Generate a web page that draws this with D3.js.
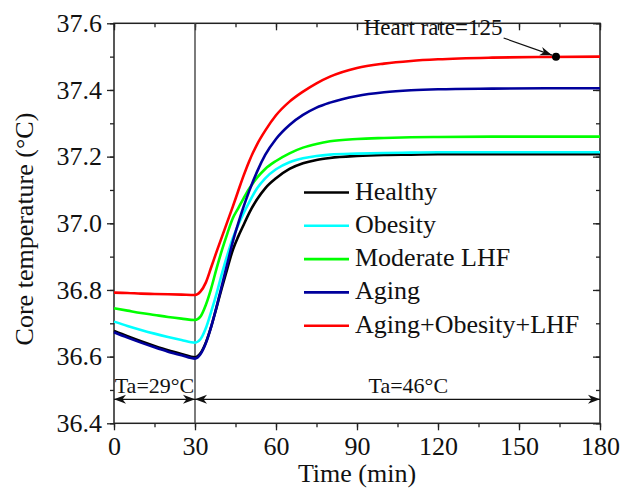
<!DOCTYPE html>
<html>
<head>
<meta charset="utf-8">
<script src="https://cdn.jsdelivr.net/npm/d3@7"></script>
<style>
  html, body { margin: 0; padding: 0; background: #fff; overflow: hidden; }
  svg { display: block; }
  svg text { font-family: "Liberation Serif", "Times New Roman", serif; }
  .axis path { display: none; }
  .axis line { stroke: #222; stroke-width: 1.3; }
</style>
</head>
<body>
<div class="chart"></div>
<script>
const times = [0, 5, 10, 15, 20, 25, 30, 32, 34, 36, 38, 40, 42, 44, 46, 48, 50, 53, 56, 60, 65, 70, 75, 80, 90, 100, 110, 120, 140, 160, 180];

const healthy = [36.677, 36.661, 36.646, 36.632, 36.619, 36.608, 36.598, 36.61, 36.642, 36.69, 36.748, 36.808, 36.865, 36.92, 36.96, 36.995, 37.03, 37.072, 37.105, 37.135, 37.163, 37.18, 37.19, 37.196, 37.202, 37.205, 37.206, 37.207, 37.207, 37.207, 37.207];
const obesity = [36.705, 36.692, 36.68, 36.669, 36.659, 36.65, 36.642, 36.652, 36.685, 36.735, 36.79, 36.85, 36.905, 36.955, 36.995, 37.03, 37.062, 37.105, 37.135, 37.162, 37.183, 37.195, 37.202, 37.206, 37.209, 37.211, 37.212, 37.213, 37.213, 37.213, 37.213];
const moderateLHF = [36.745, 36.738, 36.731, 36.725, 36.719, 36.714, 36.71, 36.72, 36.755, 36.805, 36.865, 36.92, 36.97, 37.015, 37.045, 37.075, 37.103, 37.137, 37.163, 37.187, 37.21, 37.227, 37.238, 37.246, 37.253, 37.256, 37.258, 37.259, 37.26, 37.26, 37.26];
const aging = [36.673, 36.657, 36.642, 36.628, 36.615, 36.604, 36.594, 36.607, 36.64, 36.69, 36.75, 36.815, 36.88, 36.945, 37.0, 37.05, 37.095, 37.155, 37.205, 37.253, 37.295, 37.325, 37.347, 37.362, 37.382, 37.393, 37.399, 37.402, 37.404, 37.405, 37.405];
const agingObesityLHF = [36.792, 36.791, 36.789, 36.788, 36.787, 36.786, 36.785, 36.795, 36.822, 36.868, 36.915, 36.96, 37.005, 37.05, 37.097, 37.143, 37.185, 37.237, 37.278, 37.324, 37.365, 37.395, 37.42, 37.44, 37.466, 37.479, 37.487, 37.492, 37.497, 37.499, 37.5];

const seriesNames = ['Healthy', 'Obesity', 'Moderate LHF', 'Aging', 'Aging+Obesity+LHF'];
const seriesValues = [healthy, obesity, moderateLHF, aging, agingObesityLHF];
const seriesColors = ['#000000', '#00ffff', '#00ff00', '#00009c', '#ff0000'];

const xTicks = [0, 30, 60, 90, 120, 150, 180];
const yTicks = [36.4, 36.6, 36.8, 37.0, 37.2, 37.4, 37.6];

// annotations
const switchTime = 30;
const periodLevel = 36.472;
const periodLabels = [{text: 'Ta=29°C', t: 15}, {text: 'Ta=46°C', t: 109}];
const heartPoint = {t: 163.7, v: 37.5};
const heartLabel = {text: 'Heart rate=125', t: 92.5, v: 37.564, arrowFrom: [144.3, 37.556]};

const width = 622;
const height = 490;
const margin = {top: 23.3, left: 114, right: 22, bottom: 66.7};
const innerWidth = width - margin.left - margin.right;
const innerHeight = height - margin.top - margin.bottom;

const xScale = d3.scaleLinear().domain([0, 180]).range([0, innerWidth]);
const yScale = d3.scaleLinear().domain([36.4, 37.6]).range([innerHeight, 0]);

const svg = d3.select('.chart')
  .append('svg')
  .attr('width', width)
  .attr('height', height);

const defs = svg.append('defs');
defs.append('marker')
  .attr('id', 'arrow')
  .attr('viewBox', '-1 -6 15 12')
  .attr('markerUnits', 'userSpaceOnUse')
  .attr('markerWidth', 15)
  .attr('markerHeight', 12)
  .attr('refX', 12)
  .attr('refY', 0)
  .attr('orient', 'auto-start-reverse')
  .append('path')
  .attr('d', 'M0,-4.5L12,0L0,4.5L3.5,0Z')
  .attr('fill', '#111');

const main = svg.append('g')
  .attr('transform', `translate(${margin.left},${margin.top})`);

// minor + major ticks on all four sides
const minorX = d3.range(0, 181, 15);
const minorY = d3.range(0, 13).map(i => 36.4 + i * 0.1);

const styleTicks = g => g
  .attr('font-size', 26)
  .attr('font-family', '"Liberation Serif", "Times New Roman", serif')
  .selectAll('text').attr('fill', '#111');

main.append('g').attr('class', 'axis')
  .attr('transform', `translate(0,${innerHeight})`)
  .call(d3.axisBottom(xScale).tickValues(minorX).tickSize(4).tickFormat(''));
main.append('g').attr('class', 'axis x')
  .attr('transform', `translate(0,${innerHeight})`)
  .call(d3.axisBottom(xScale).tickValues(xTicks).tickSize(7).tickPadding(6).tickFormat(d3.format('d')))
  .call(styleTicks);

main.append('g').attr('class', 'axis')
  .call(d3.axisLeft(yScale).tickValues(minorY).tickSize(4).tickFormat(''));
main.append('g').attr('class', 'axis y')
  .call(d3.axisLeft(yScale).tickValues(yTicks).tickSize(7).tickPadding(5).tickFormat(d3.format('.1f')))
  .call(styleTicks);

main.append('g').attr('class', 'axis')
  .call(d3.axisTop(xScale).tickValues(minorX).tickSize(-4).tickFormat(''));
main.append('g').attr('class', 'axis')
  .call(d3.axisTop(xScale).tickValues(xTicks).tickSize(-7).tickFormat(''));

main.append('g').attr('class', 'axis')
  .attr('transform', `translate(${innerWidth},0)`)
  .call(d3.axisRight(yScale).tickValues(minorY).tickSize(-4).tickFormat(''));
main.append('g').attr('class', 'axis')
  .attr('transform', `translate(${innerWidth},0)`)
  .call(d3.axisRight(yScale).tickValues(yTicks).tickSize(-7).tickFormat(''));

// frame
main.append('rect')
  .attr('width', innerWidth)
  .attr('height', innerHeight)
  .attr('fill', 'none')
  .attr('stroke', '#222')
  .attr('stroke-width', 1.5);

// ambient temperature switch
main.append('line')
  .attr('x1', xScale(switchTime)).attr('x2', xScale(switchTime))
  .attr('y1', 0).attr('y2', innerHeight)
  .attr('stroke', '#444')
  .attr('stroke-width', 1.4);

const line = d3.line()
  .x((d, i) => xScale(times[i]))
  .y(d => yScale(d))
  .curve(d3.curveMonotoneX);

main.append('g').attr('class', 'lines')
  .selectAll('path')
  .data(seriesValues)
  .enter().append('path')
  .attr('fill', 'none')
  .attr('stroke', (d, i) => seriesColors[i])
  .attr('stroke-width', 2.6)
  .attr('d', line);

// period arrows
[[0, switchTime], [switchTime, 180]].forEach(([a, b]) => {
  main.append('line')
    .attr('x1', xScale(a)).attr('x2', xScale(b))
    .attr('y1', yScale(periodLevel)).attr('y2', yScale(periodLevel))
    .attr('stroke', '#111')
    .attr('stroke-width', 1.2)
    .attr('marker-start', 'url(#arrow)')
    .attr('marker-end', 'url(#arrow)');
});

main.selectAll('.period')
  .data(periodLabels)
  .enter().append('text')
  .attr('class', 'period')
  .attr('x', d => xScale(d.t))
  .attr('y', yScale(periodLevel) - 6)
  .attr('text-anchor', 'middle')
  .attr('font-size', 22)
  .attr('fill', '#111')
  .text(d => d.text);

// heart rate annotation
main.append('line')
  .attr('x1', xScale(heartLabel.arrowFrom[0]))
  .attr('y1', yScale(heartLabel.arrowFrom[1]))
  .attr('x2', xScale(heartPoint.t) - 4)
  .attr('y2', yScale(heartPoint.v) - 1.5)
  .attr('stroke', '#111')
  .attr('stroke-width', 1.2)
  .attr('marker-end', 'url(#arrow)');

main.append('circle')
  .attr('cx', xScale(heartPoint.t))
  .attr('cy', yScale(heartPoint.v))
  .attr('r', 4)
  .attr('fill', '#000');

main.append('text')
  .attr('x', xScale(heartLabel.t))
  .attr('y', yScale(heartLabel.v))
  .attr('font-size', 23)
  .attr('fill', '#111')
  .text(heartLabel.text);

// legend
const legendX = 304 - margin.left;
const legendY = 192.5 - margin.top;
const lineHeight = 33.3;

const entry = main.append('g').attr('class', 'legend')
  .attr('transform', `translate(${legendX},${legendY})`)
  .selectAll('g')
  .data(seriesNames)
  .enter().append('g')
  .attr('transform', (d, i) => `translate(0,${i * lineHeight})`);

entry.append('line')
  .attr('x1', 0).attr('x2', 45)
  .attr('stroke', (d, i) => seriesColors[i])
  .attr('stroke-width', 2.6);

entry.append('text')
  .attr('x', 51)
  .attr('y', 7)
  .attr('font-size', 26)
  .attr('fill', '#111')
  .text(d => d);

// axis titles
svg.append('text')
  .attr('x', margin.left + innerWidth / 2)
  .attr('y', 482)
  .attr('text-anchor', 'middle')
  .attr('font-size', 26)
  .attr('fill', '#111')
  .text('Time (min)');

svg.append('text')
  .attr('transform', 'rotate(-90)')
  .attr('x', -229)
  .attr('y', 33)
  .attr('text-anchor', 'middle')
  .attr('font-size', 26)
  .attr('fill', '#111')
  .text('Core temperature (°C)');
</script>
</body>
</html>
